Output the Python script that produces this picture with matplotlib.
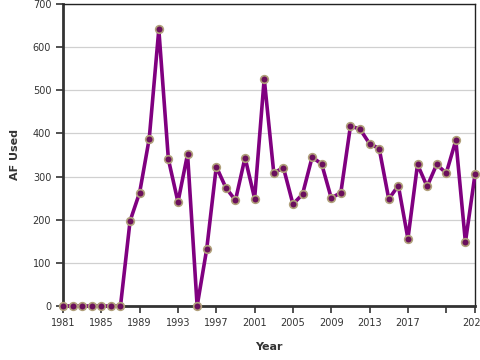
import matplotlib
matplotlib.use("Agg")
import matplotlib.pyplot as plt

# values
years = list(range(1981, 2025))
af_used = [0, 0, 0, 0, 0, 0, 0, 197, 263, 388,
           641, 340, 241, 352, 0, 132, 323, 274, 245, 344,
           249, 527, 308, 321, 236, 259, 345, 329, 250, 263,
           417, 410, 376, 365, 248, 279, 156, 328, 277, 328,
           308, 384, 148, 305]

x_ticks = [1981, 1985, 1989, 1993, 1997, 2001, 2005, 2009, 2013, 2017, 2021, 2024]
x_labels = ['1981', '1985', '1989', '1993', '1997', '2001', '2005', '2009', '2013', '2017', '', '2024']
y_ticks = [0, 100, 200, 300, 400, 500, 600, 700]

fig = plt.figure(figsize=(4.8, 3.6), dpi=100)
ax = fig.add_axes([63 / 480, 1 - 306 / 360, 412 / 480, 302 / 360])

ax.plot(years, af_used, color='#800080', linewidth=2.6, zorder=3,
        marker='o', markersize=5.5, markerfacecolor='#6a0f5c',
        markeredgecolor='#b0a07a', markeredgewidth=1.2, clip_on=False)

ax.set_xlim(1981, 2024)
ax.set_ylim(0, 700)
ax.set_xticks(x_ticks)
ax.set_xticklabels(x_labels)
ax.set_yticks(y_ticks)

ax.grid(axis='y', color='#d0d0d0', linewidth=0.9)
ax.set_axisbelow(True)

for side in ['left', 'bottom']:
    ax.spines[side].set_linewidth(2)
    ax.spines[side].set_color('#333333')
for side in ['top', 'right']:
    ax.spines[side].set_linewidth(1)
    ax.spines[side].set_color('#222222')

ax.tick_params(axis='both', labelsize=7, colors='#333333', length=5, width=1.2)
ax.tick_params(axis='x', pad=4)

ax.set_xlabel('Year', fontsize=8, fontweight='bold', color='#333333', labelpad=10)
ax.set_ylabel('AF Used', fontsize=8, fontweight='bold', color='#333333', labelpad=9)

fig.savefig('out.png', dpi=100)
